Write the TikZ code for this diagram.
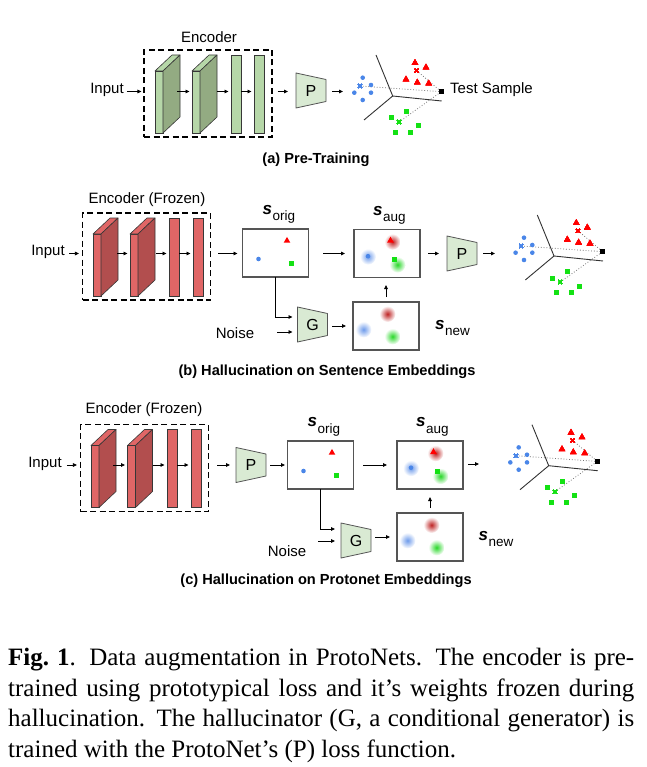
\documentclass[tikz,border=0pt]{standalone}
\usepackage{fontspec}
\setmainfont{Liberation Serif}
\newfontfamily\figsans{Liberation Sans}
\usetikzlibrary{arrows.meta,positioning}
\definecolor{gFront}{RGB}{182,215,168}
\definecolor{gSide}{RGB}{147,171,130}
\definecolor{rFront}{RGB}{224,102,102}
\definecolor{rSide}{RGB}{178,78,78}
\definecolor{pFill}{RGB}{217,234,211}
\definecolor{pEdge}{RGB}{55,55,55}
\definecolor{pBox}{RGB}{85,85,85}
\definecolor{pAxis}{RGB}{50,50,50}
\definecolor{pBlue}{RGB}{74,134,232}
\definecolor{pRed}{RGB}{255,0,0}
\definecolor{pGreen}{RGB}{20,225,20}
\definecolor{bRed}{RGB}{190,35,35}
\definecolor{bBlue}{RGB}{110,155,235}
\definecolor{bGreen}{RGB}{40,215,40}
\tikzset{
    lbl/.style={font=\figsans\fontsize{15}{18}\selectfont, inner sep=0pt},
    subcap/.style={font=\figsans\bfseries\fontsize{14.6}{18}\selectfont, inner sep=0pt},
    slbl/.style={font=\figsans, anchor=base west, inner sep=0pt},
    encbox/.style={draw, dash pattern=on 6pt off 3.5pt, line width=1.2pt, minimum width=128pt, minimum height=87pt, inner sep=0pt},
    slabfront/.style={draw=pEdge, line width=0.6pt, minimum width=8pt, minimum height=62pt, inner sep=0pt, outer sep=0pt, anchor=north west},
    encbar/.style={draw=pEdge, line width=0.6pt, minimum width=10pt, minimum height=78pt, inner sep=0pt, outer sep=0pt, anchor=north west},
    face/.style={draw=pEdge, line width=0.6pt, line join=round},
    trap/.style={draw=pBox, fill=pFill, line width=0.8pt, line join=round},
    traptext/.style={font=\figsans\fontsize{16}{18}\selectfont, minimum width=30pt, minimum height=35pt, inner sep=0pt, outer sep=0pt},
    embbox/.style={draw=pBox, line width=1.2pt, minimum width=66pt, minimum height=48pt, inner sep=0pt, outer sep=0pt},
    arr/.style={-{Triangle[length=4pt,width=3.6pt]}, line width=0.8pt},
    axisline/.style={draw=pAxis, line width=0.9pt},
    dotline/.style={draw=black!55, line width=0.8pt, dotted}
}
\newcommand{\encslab}[4]{%
  \node[slabfront, fill=#4Front] (#1) at (#2,#3+16) {};
  \draw[face, fill=#4Front] (#1.north west) -- ++(17,-16) -- ++(8,0) -- (#1.north east) -- cycle;
  \draw[face, fill=#4Side] (#1.north east) -- ++(17,-16) -- ++(0,62) -- (#1.south east) -- cycle;
}
\newcommand{\trapnode}[4]{%
  \draw[trap] (#2,#3) +(-15,-17.5) -- +(15,-11) -- +(15,11) -- +(-15,17.5) -- cycle;
  \node[traptext] (#1) at (#2,#3) {#4};
}
\newcommand{\redtri}[1]{\fill[pRed] #1 ++(0,-3.6) -- ++(3.3,5.8) -- ++(-6.6,0) -- cycle;}
\newcommand{\bluedot}[1]{\fill[pBlue] #1 circle (2.3pt);}
\newcommand{\greensq}[1]{\fill[pGreen] #1 ++(-2.5,-2.5) rectangle ++(5,5);}
\newcommand{\xmark}[2]{\draw[#2, line width=0.7pt] (#1) +(-1.8,-1.8) -- +(1.8,1.8) +(-1.8,1.8) -- +(1.8,-1.8);}
\newcommand{\blob}[2]{\shade[inner color=#2, outer color=white] #1 circle (8pt);}
\newcommand{\sname}[1]{{\fontsize{17}{17}\selectfont\bfseries\itshape s}\kern0.5pt\raisebox{-6.5pt}{\fontsize{13.5}{14}\selectfont #1}}
\newcommand{\embspace}[2]{%
  \begin{scope}[shift={#2}]
    \draw[axisline] (-16.7,-41) -- (0,0) -- (49,5);
    \draw[axisline] (-28.7,24) -- (0,0);
    \coordinate (#1t) at (48.6,-4.3);
    \coordinate (#1bx) at (-32.7,-10);
    \coordinate (#1rx) at (24,-25.3);
    \coordinate (#1gx) at (6.3,26);
    \draw[dotline] (#1bx) -- (#1t);
    \draw[dotline] (#1rx) -- (#1t);
    \draw[dotline] (#1gx) -- (#1t);
    \foreach \p in {(-30,-18.3),(-21.7,-11),(-38.4,-3.3),(-21.7,-3.3),(-30,4)}
      \bluedot{\p}
    \foreach \p in {(22.3,-33.3),(33.3,-28.7),(13.3,-16.7),(24.6,-13.7),(36,-12.7)}
      \redtri{\p}
    \foreach \p in {(13.3,15.7),(-1.7,22),(25.3,30),(2.6,36.3),(17.3,36.3)}
      \greensq{\p}
    \xmark{#1bx}{pBlue}
    \xmark{#1rx}{pRed}
    \xmark{#1gx}{pGreen}
    \fill (#1t) ++(-2.6,-2.6) rectangle ++(5.2,5.2);
  \end{scope}
}
\newcommand{\origpts}[1]{%
  \begin{scope}[shift={(#1.center)}]
    \redtri{(11.5,-12.5)}
    \bluedot{(-17,6)}
    \greensq{(16,10.5)}
  \end{scope}
}
\newcommand{\augpts}[1]{%
  \begin{scope}[shift={(#1.center)}]
    \blob{(5.5,-11.7)}{bRed}
    \blob{(-19,3.2)}{bBlue}
    \blob{(10.5,11.2)}{bGreen}
    \redtri{(3.5,-13.2)}
    \bluedot{(-19,2.7)}
    \greensq{(7.5,6.2)}
  \end{scope}
}
\newcommand{\newpts}[1]{%
  \begin{scope}[shift={(#1.center)}]
    \blob{(1.5,-12)}{bRed}
    \blob{(-22.5,3.5)}{bBlue}
    \blob{(6.5,10.5)}{bGreen}
  \end{scope}
}

\begin{document}
\begin{tikzpicture}[x=1pt,y=-1pt]
\useasboundingbox (0,0) rectangle (646,767);

% (a) pre-training
\node[encbox] (aEnc) at (208,93.5) {};
\node[lbl] (aEncT) at (209,37) {Encoder};
\encslab{a1}{155}{55}{g}
\encslab{a2}{192}{55}{g}
\node[encbar, fill=gFront] (a3) at (231,55) {};
\node[encbar, fill=gFront] (a4) at (254,55) {};
\coordinate (aY) at (0,91.5);
\node[lbl] (aIn) at (107,90) {Input};
\trapnode{aP}{311}{90.5}{P}
\embspace{a}{(392.7,96)}
\coordinate (aL) at (343,91.5);
\node[lbl, anchor=west] (aTS) at (450,90) {Test Sample};
\draw[arr, shorten <=3pt, shorten >=2pt] (aIn.east |- aY) -- (aEnc.west |- aY);
\draw[arr, shorten <=14pt, shorten >=2.5pt] (a1.east |- aY) -- (a2.west |- aY);
\draw[arr, shorten <=17pt, shorten >=2.5pt] (a2.east |- aY) -- (a3.west |- aY);
\draw[arr, shorten >=2.5pt] (a3.east |- aY) -- (a4.west |- aY);
\draw[arr, shorten <=5pt, shorten >=8pt] (aEnc.east |- aY) -- (aP.west |- aY);
\draw[arr, shorten <=6pt] (aP.east |- aY) -- (aL);
\node[subcap] (aCap) at (316,160) {(a) Pre-Training};

% (b) sentence embeddings
\node[encbox] (bEnc) at (146.5,256.5) {};
\node[lbl] (bEncT) at (147,200) {Encoder (Frozen)};
\encslab{b1}{93}{218}{r}
\encslab{b2}{130}{218}{r}
\node[encbar, fill=rFront] (b3) at (169,218) {};
\node[encbar, fill=rFront] (b4) at (193,218) {};
\coordinate (bY) at (0,253.5);
\node[lbl] (bIn) at (48,252) {Input};
\node[embbox] (bOrig) at (275.5,253) {};
\node[embbox] (bAug) at (387,253.5) {};
\node[embbox] (bNew) at (386,326) {};
\origpts{bOrig}
\augpts{bAug}
\newpts{bNew}
\node[slbl] (bOrigS) at ([shift={(20pt,14.5pt)}]bOrig.north west) {\sname{orig}};
\node[slbl] (bAugS) at ([shift={(19pt,14.5pt)}]bAug.north west) {\sname{aug}};
\node[slbl] (bNewS) at ([shift={(16pt,-3pt)}]bNew.east) {\sname{new}};
\trapnode{bP}{462}{253.5}{P}
\trapnode{bG}{312.5}{324.5}{G}
\node[lbl] (bNoise) at (235,333) {Noise};
\embspace{b}{(554,256)}
\coordinate (bL) at (495,253.5);
\coordinate (bGn) at ([yshift=-7.5pt]bG.west);
\draw[arr, shorten <=4.5pt, shorten >=3pt] (bIn.east |- bY) -- (bEnc.west |- bY);
\draw[arr, shorten <=16pt, shorten >=2.5pt] (b1.east |- bY) -- (b2.west |- bY);
\draw[arr, shorten <=18pt, shorten >=2.5pt] (b2.east |- bY) -- (b3.west |- bY);
\draw[arr, shorten >=2.5pt] (b3.east |- bY) -- (b4.west |- bY);
\draw[arr, shorten <=7pt, shorten >=5pt] (bEnc.east |- bY) -- (bOrig.west |- bY);
\draw[arr, shorten <=14.5pt, shorten >=9pt] (bOrig.east |- bY) -- (bAug.west |- bY);
\draw[arr, shorten <=8pt, shorten >=8pt] (bAug.east |- bY) -- (bP.west |- bY);
\draw[arr, shorten <=6pt] (bP.east |- bY) -- (bL);
\draw[arr, shorten >=5pt] (bOrig.south) |- ([yshift=7.5pt]bG.west);
\draw[arr, shorten <=23pt, shorten >=5pt] (bNoise.east |- bGn) -- (bGn);
\draw[arr, shorten <=4.5pt, shorten >=7pt] (bG.east |- bNew) -- (bNew.west);
\draw[arr, shorten <=5pt, shorten >=7.5pt] (bNew.north) -- (bNew.north |- bAug.south);
\node[subcap] (bCap) at (327,372) {(b) Hallucination on Sentence Embeddings};

% (c) protonet embeddings
\node[encbox] (cEnc) at (144.5,468) {};
\node[lbl] (cEncT) at (144,410) {Encoder (Frozen)};
\encslab{c1}{91}{429.5}{r}
\encslab{c2}{127.5}{429.5}{r}
\node[encbar, fill=rFront] (c3) at (167,429.5) {};
\node[encbar, fill=rFront] (c4) at (191,429.5) {};
\coordinate (cY) at (0,465);
\node[lbl] (cIn) at (45,464) {Input};
\trapnode{cP}{251}{465}{P}
\node[embbox] (cOrig) at (320.5,465) {};
\node[embbox] (cAug) at (430,465) {};
\node[embbox] (cNew) at (430,537) {};
\origpts{cOrig}
\augpts{cAug}
\newpts{cNew}
\node[slbl] (cOrigS) at ([shift={(20pt,14.5pt)}]cOrig.north west) {\sname{orig}};
\node[slbl] (cAugS) at ([shift={(19pt,14.5pt)}]cAug.north west) {\sname{aug}};
\node[slbl] (cNewS) at ([shift={(15.5pt,-3pt)}]cNew.east) {\sname{new}};
\trapnode{cG}{356}{540.5}{G}
\node[lbl] (cNoise) at (287,551) {Noise};
\embspace{c}{(548.7,465.7)}
\coordinate (cL) at (479,464);
\coordinate (cNz) at (318,541);
\draw[arr, shorten <=5pt, shorten >=3pt] (cIn.east |- cY) -- (cEnc.west |- cY);
\draw[arr, shorten <=14pt, shorten >=2.5pt] (c1.east |- cY) -- (c2.west |- cY);
\draw[arr, shorten <=17pt, shorten >=2.5pt] (c2.east |- cY) -- (c3.west |- cY);
\draw[arr, shorten >=2.5pt] (c3.east |- cY) -- (c4.west |- cY);
\draw[arr, shorten <=8pt, shorten >=6pt] (cEnc.east |- cY) -- (cP.west |- cY);
\draw[arr, shorten <=4pt, shorten >=2.5pt] (cP.east |- cY) -- (cOrig.west |- cY);
\draw[arr, shorten <=9.5pt, shorten >=10pt] (cOrig.east |- cY) -- (cAug.west |- cY);
\draw[arr, shorten <=5pt] (cAug.east |- cL) -- (cL);
\draw[arr, shorten >=6pt] (cOrig.south) |- ([yshift=11.5pt]cG.west);
\draw[arr, shorten >=6pt] (cNz) -- (cNz -| cG.west);
\draw[arr, shorten <=4pt, shorten >=7pt] (cG.east |- cNew) -- (cNew.west);
\draw[arr, shorten <=5pt, shorten >=8pt] (cNew.north) -- (cNew.north |- cAug.south);
\node[subcap] (cCap) at (326,581) {(c) Hallucination on Protonet Embeddings};

% figure caption
\node[anchor=north west, inner sep=0pt, text width=626pt, align=justify, font=\fontsize{25}{30.5}\selectfont] (figCap) at (8,648)
  {\textbf{Fig.~1}. Data augmentation in ProtoNets. The encoder is pre-\linebreak trained using prototypical loss and it’s weights frozen during\linebreak hallucination. The hallucinator (G, a conditional generator) is\linebreak trained with the ProtoNet’s (P) loss function.};
\end{tikzpicture}
\end{document}
